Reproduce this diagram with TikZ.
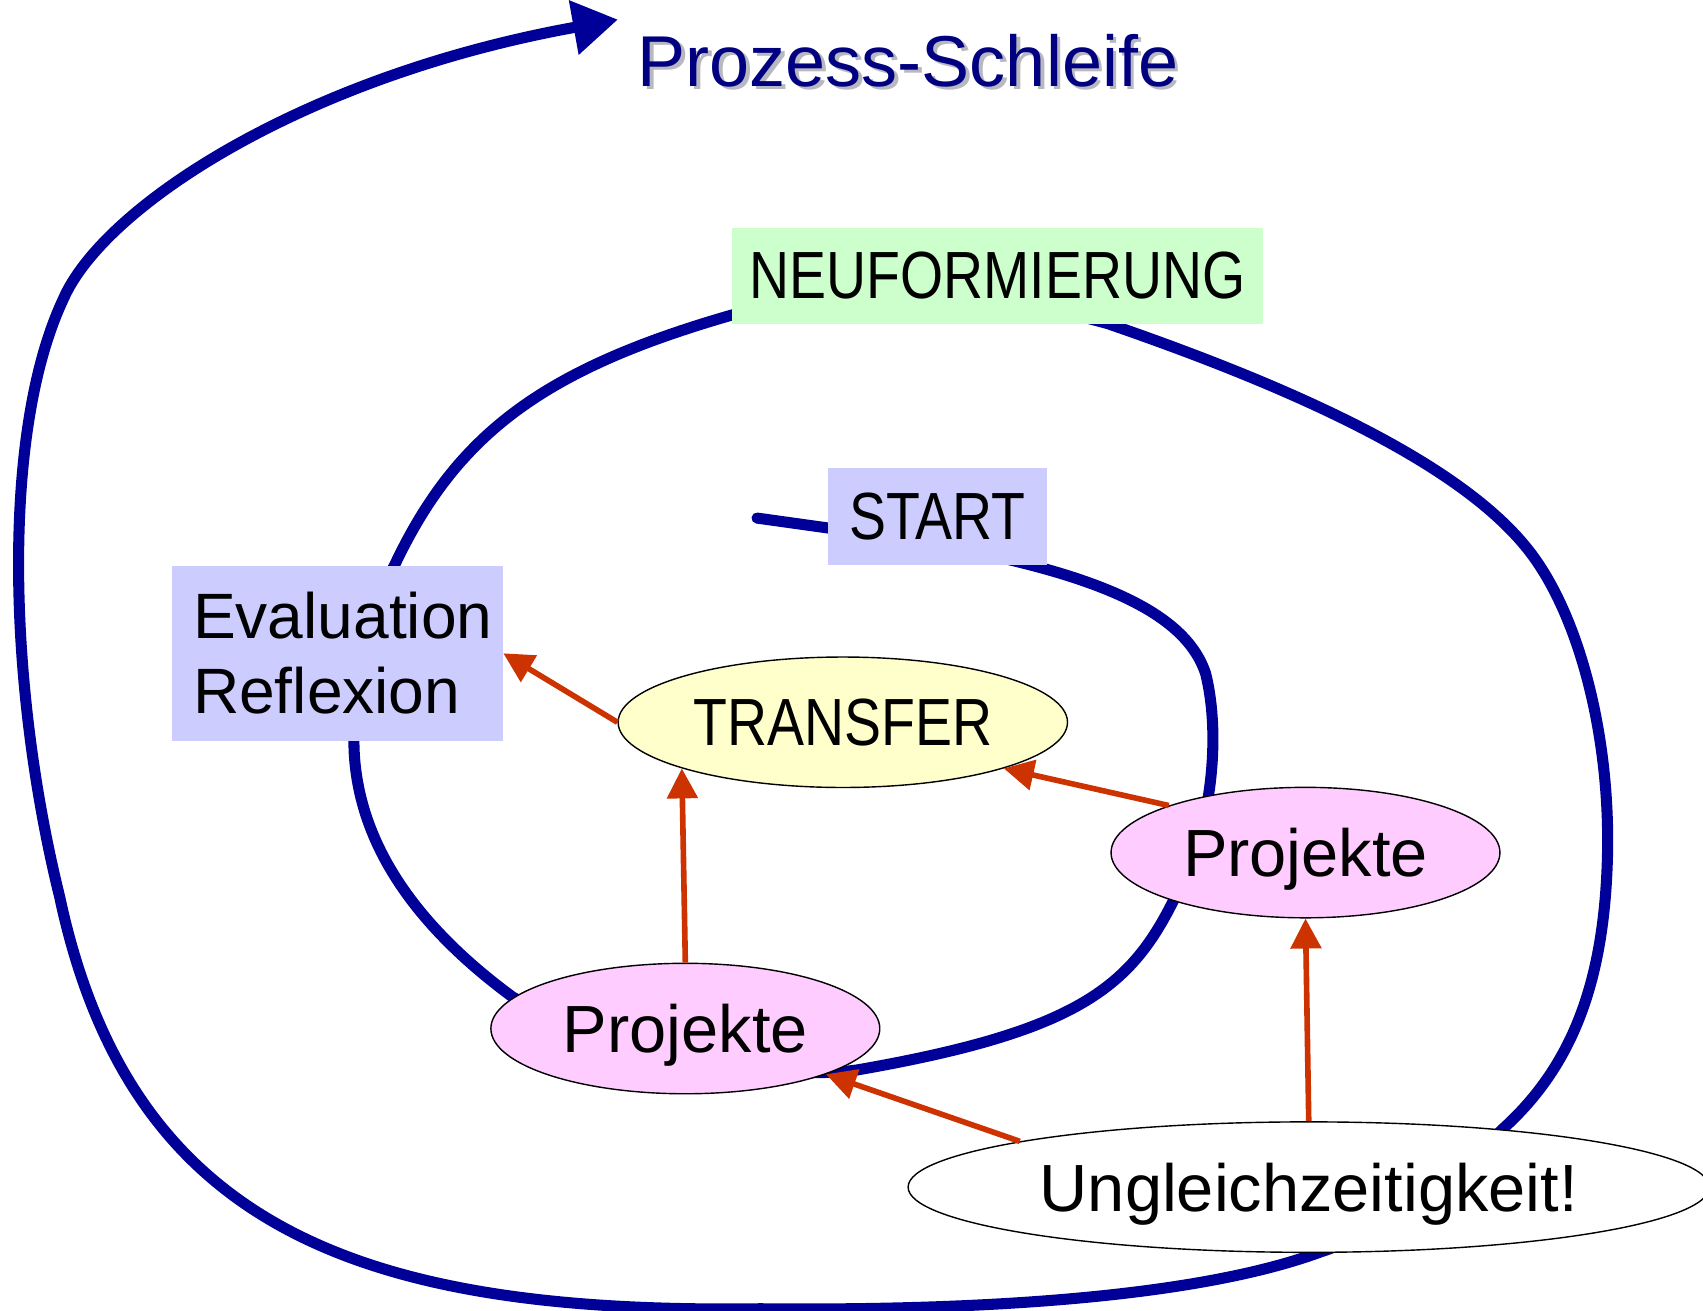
\documentclass[tikz,border=0pt]{standalone}
\usepackage{fontspec}
\setmainfont{Liberation Sans}
\newfontfamily\capsfont{Liberation Sans}[FakeStretch=0.83]
\usetikzlibrary{arrows.meta,shapes.geometric}
\definecolor{psBlue}{HTML}{000099}
\definecolor{psRust}{HTML}{CC3300}
\definecolor{psLilac}{HTML}{CCCCFF}
\definecolor{psMint}{HTML}{CCFFCC}
\definecolor{psCream}{HTML}{FFFFCC}
\definecolor{psPink}{HTML}{FFCCFF}
\definecolor{psNavy}{HTML}{000080}
\definecolor{psShadow}{HTML}{B8B8C0}
\newcommand\psText{\fontsize{38}{43}\selectfont}
\newcommand\psCaps{\capsfont\fontsize{38}{43}\selectfont}
\newcommand\psTitle{\fontsize{41}{48}\selectfont}
\tikzset{
  ps loop/.style={
    draw=psBlue,
    line width=6.3pt,
    line cap=round,
    -{Triangle[length=9mm,width=10.5mm]}
  },
  ps push/.style={
    draw=psRust,
    line width=3.2pt,
    -{Triangle[length=6mm,width=6mm]}
  },
  ps box/.style={rectangle, inner sep=0pt, font=\psCaps},
  ps oval/.style={ellipse, draw=black, line width=0.8pt, inner sep=0pt,
    minimum height=2.61cm, text depth=0pt, font=\psText},
  ps title/.style={font=\psTitle, text=psNavy}
}

\begin{document}
\begin{tikzpicture}[x=0.021722cm,y=-0.021722cm]
  \useasboundingbox (0,0) rectangle (1568,1207);

  % the spiral, behind all nodes
  \draw[ps loop] (697,477) -- (790,490)
    .. controls (1000,520) and (1090,560) .. (1110,620)
    .. controls (1125,680) and (1115,770) .. (1080,830)
    .. controls (1040,910) and (990,950) .. (790,985)
    .. controls (700,998) and (550,960) .. (472,918)
    .. controls (400,865) and (330,790) .. (326,690)
    .. controls (324,620) and (340,560) .. (363,521)
    .. controls (420,400) and (500,340) .. (674,290)
    .. controls (800,255) and (900,265) .. (1020,298)
    .. controls (1200,360) and (1350,430) .. (1410,510)
    .. controls (1455,570) and (1483,680) .. (1480,790)
    .. controls (1477,900) and (1450,980) .. (1383,1040)
    .. controls (1330,1095) and (1270,1135) .. (1215,1153)
    .. controls (1100,1195) and (900,1207) .. (700,1205)
    .. controls (330,1210) and (120,1130) .. (55,826)
    .. controls (8,636) and (0,400) .. (58,276)
    .. controls (95,190) and (280,70) .. (569,18);

  \node[ps title, text=psShadow] at (839,59) {Prozess-Schleife};
  \node[ps title] (title) at (836,56) {Prozess-Schleife};

  \node[ps box, fill=psMint, minimum width=10.62cm, minimum height=1.91cm]
    (neu) at (918.5,254) {NEUFORMIERUNG};
  \node[ps box, fill=psLilac, minimum width=4.39cm, minimum height=1.93cm]
    (start) at (863,475.5) {START};
  \node[ps box, fill=psLilac, minimum width=6.63cm, minimum height=3.50cm,
    font=\fontsize{36.5}{43}\selectfont, align=left, text width=5.77cm, inner xsep=0.43cm]
    (eval) at (310.5,601.5) {Evaluation\\Reflexion};

  \node[ps oval, fill=psCream, minimum width=8.99cm, font=\psCaps]
    (transfer) at (776,665) {TRANSFER};
  \node[ps oval, fill=psPink, minimum width=7.78cm] (projR) at (1202,785) {Projekte};
  \node[ps oval, fill=psPink, minimum width=7.78cm] (projL) at (631,947) {Projekte};
  \node[ps oval, fill=white, minimum width=16.03cm] (ungl) at (1205,1093) {Ungleichzeitigkeit!};

  \draw[ps push] (transfer.west) -- (eval.east);
  \draw[ps push] (projL.north) -- (transfer.196);
  \draw[ps push] (projR.161) -- (transfer.-16);
  \draw[ps push] (ungl.171) -- (projL.-18);
  \draw[ps push] (ungl.north) -- (projR.south);
\end{tikzpicture}
\end{document}
